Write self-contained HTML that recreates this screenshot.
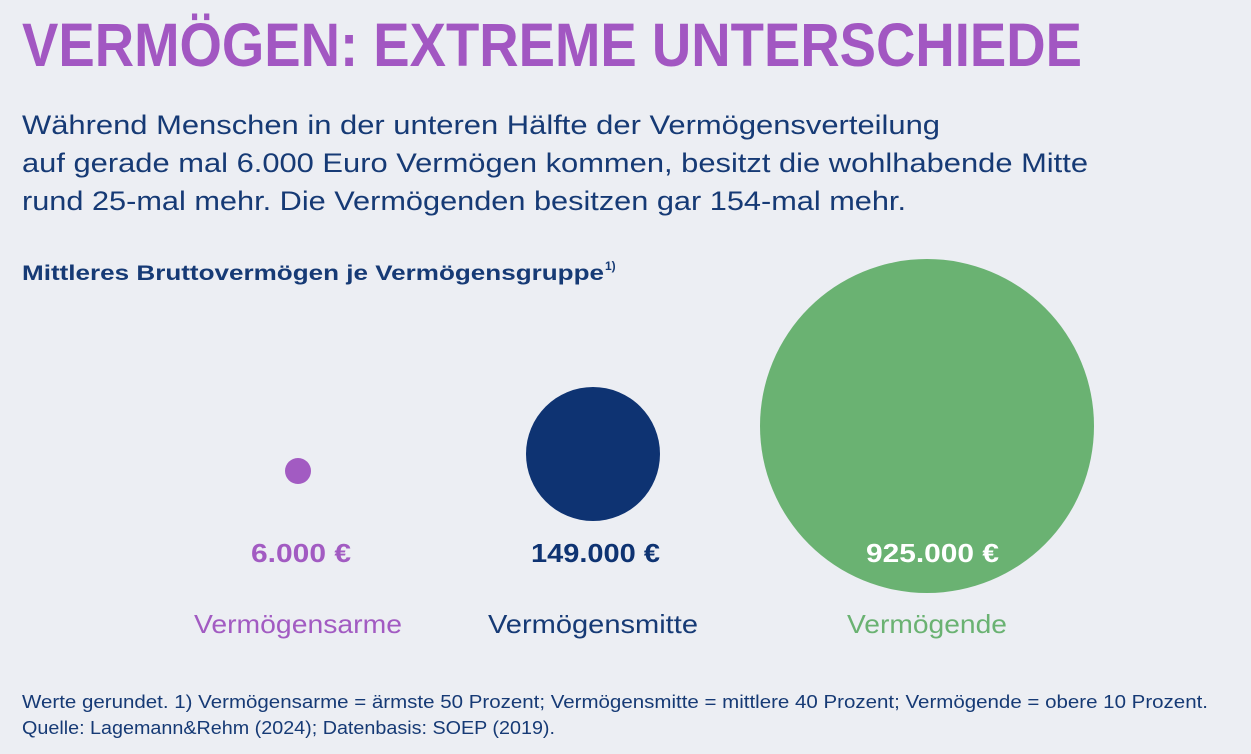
<!DOCTYPE html>
<html><head><meta charset="utf-8"><style>
html,body{margin:0;padding:0;background:#eceef3;}
svg{display:block;font-family:"Liberation Sans",sans-serif;}
</style></head><body>
<svg width="1251" height="754" viewBox="0 0 1251 754">
<rect width="1251" height="754" fill="#eceef3"/>
<text x="22" y="66" font-size="61" font-weight="bold" fill="#a257c2" textLength="1060" lengthAdjust="spacingAndGlyphs">VERMÖGEN: EXTREME UNTERSCHIEDE</text>
<g fill="#163a75" font-size="27">
<text x="22" y="134" textLength="918" lengthAdjust="spacingAndGlyphs">Während Menschen in der unteren Hälfte der Vermögensverteilung</text>
<text x="22" y="172" textLength="1066" lengthAdjust="spacingAndGlyphs">auf gerade mal 6.000 Euro Vermögen kommen, besitzt die wohlhabende Mitte</text>
<text x="22" y="210" textLength="884" lengthAdjust="spacingAndGlyphs">rund 25-mal mehr. Die Vermögenden besitzen gar 154-mal mehr.</text>
</g>
<text x="22" y="280" font-size="21" font-weight="bold" fill="#163a75" textLength="582" lengthAdjust="spacingAndGlyphs">Mittleres Bruttovermögen je Vermögensgruppe</text>
<text x="605" y="270" font-size="12" font-weight="bold" fill="#163a75">1)</text>
<circle cx="298" cy="471" r="13" fill="#a25bc2"/>
<circle cx="593" cy="454" r="67" fill="#0e3372"/>
<circle cx="927" cy="426" r="167" fill="#6ab272"/>
<g font-size="26" font-weight="bold">
<text x="251" y="562" fill="#a25bc2" textLength="100" lengthAdjust="spacingAndGlyphs">6.000 €</text>
<text x="531" y="562" fill="#0e3372" textLength="129" lengthAdjust="spacingAndGlyphs">149.000 €</text>
<text x="866" y="562" fill="#ffffff" textLength="133" lengthAdjust="spacingAndGlyphs">925.000 €</text>
</g>
<g font-size="26" text-anchor="middle">
<text x="298" y="633" fill="#a25bc2" textLength="208" lengthAdjust="spacingAndGlyphs">Vermögensarme</text>
<text x="593" y="633" fill="#163a75" textLength="210" lengthAdjust="spacingAndGlyphs">Vermögensmitte</text>
<text x="927" y="633" fill="#6ab272" textLength="160" lengthAdjust="spacingAndGlyphs">Vermögende</text>
</g>
<g font-size="18" fill="#163a75">
<text x="22" y="708" textLength="1186" lengthAdjust="spacingAndGlyphs">Werte gerundet. 1) Vermögensarme = ärmste 50 Prozent; Vermögensmitte = mittlere 40 Prozent; Vermögende = obere 10 Prozent.</text>
<text x="22" y="734" textLength="533" lengthAdjust="spacingAndGlyphs">Quelle: Lagemann&amp;Rehm (2024); Datenbasis: SOEP (2019).</text>
</g>
</svg>
</body></html>
